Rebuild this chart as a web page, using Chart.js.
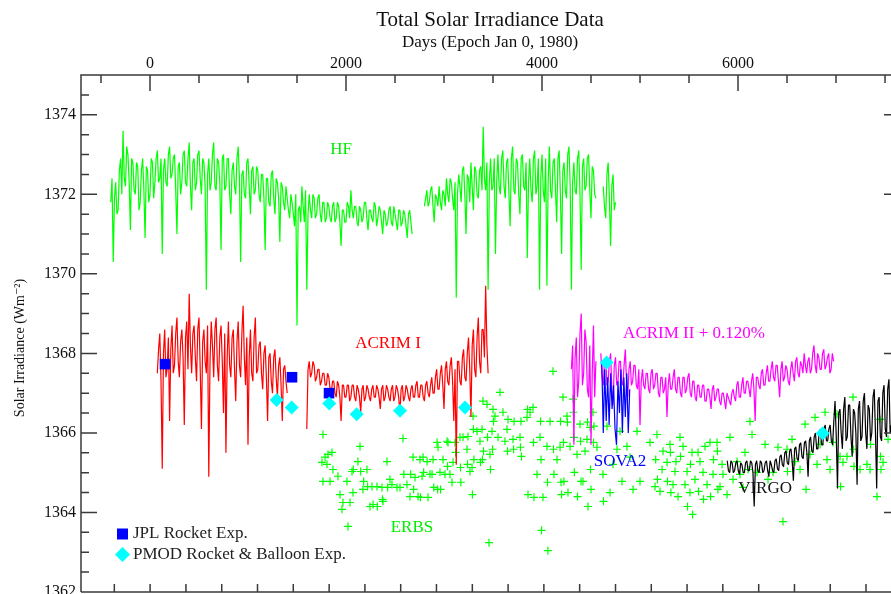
<!DOCTYPE html>
<html>
<head>
<meta charset="utf-8">
<script src="https://cdn.jsdelivr.net/npm/chart.js@4.4.0/dist/chart.umd.min.js"></script>
<style>
html, body { margin: 0; padding: 0; background: #fff; }
canvas { display: block; }
</style>
</head>
<body>
<canvas id="myChart" width="891" height="594"></canvas>
<script>
// ---- data (days since Jan 0 1980, irradiance in W/m2) ----
const chartTitle = 'Total Solar Irradiance Data';
const xTitle = 'Days (Epoch Jan 0, 1980)';
const yTitle = 'Solar Irradiance (Wm\u207B\u00B2)';
const xTicks = [0, 2000, 4000, 6000];
const yTicks = [1362, 1364, 1366, 1368, 1370, 1372, 1374];

// The daily records are read as two interleaved samples per 25-day step:
// "A" values at start + i*step, "B" values half a step later.

// HF, from day -400
const hfStart = -400, hfStep = 25;
const hfA = [
  1371.8, 1370.3, 1372.3, 1371.6, 1372.9, 1373.6, 1372.2, 1373.0, 1371.1, 1372.8,
  1372.0, 1372.7, 1371.8, 1372.9, 1370.9, 1372.6, 1372.0, 1372.8, 1372.3, 1373.1,
  1372.4, 1370.5, 1372.9, 1372.2, 1373.2, 1372.5, 1373.0, 1371.0, 1372.8, 1372.3,
  1373.1, 1372.2, 1373.3, 1371.6, 1372.9, 1372.3, 1373.1, 1372.0, 1372.8, 1369.6,
  1372.9, 1372.3, 1373.3, 1372.1, 1372.8, 1370.6, 1373.0, 1372.2, 1372.9, 1371.5,
  1372.8, 1372.0, 1373.2, 1370.3, 1372.6, 1371.9, 1372.9, 1371.5, 1372.7, 1372.1,
  1372.6, 1371.8, 1372.5, 1370.6, 1372.4, 1371.7, 1372.6, 1371.5, 1372.3, 1370.8,
  1372.2, 1371.6, 1371.9, 1371.4, 1371.8, 1371.2, 1368.7, 1371.7, 1372.2, 1371.3,
  1369.6, 1372.0, 1371.4, 1371.9, 1371.5, 1372.0, 1371.3, 1371.8, 1371.4, 1371.7,
  1371.3, 1371.8, 1371.4, 1371.7, 1370.7, 1371.6, 1371.3, 1371.7, 1372.1, 1371.4,
  1371.7, 1371.2, 1371.6, 1371.4, 1371.8, 1371.1, 1371.6, 1371.3, 1371.7, 1371.4,
  1371.6, 1371.0, 1371.5, 1371.3, 1371.7, 1371.2, 1371.5, 1371.1, 1371.6, 1371.3,
  1371.5, 1370.9, 1371.6, 1371.0, null, null, null, null, 1371.7, 1372.1,
  1371.8, 1372.2, 1371.3, 1371.9, 1372.2, 1371.6, 1372.0, 1372.4, 1371.8, 1372.3,
  1371.6, 1369.4, 1372.5, 1371.8, 1372.7, 1371.0, 1372.4, 1372.8, 1371.6, 1372.6,
  1371.9, 1372.7, 1373.7, 1372.1, 1369.6, 1372.9, 1372.2, 1370.5, 1373.0, 1372.0,
  1373.1, 1371.9, 1372.9, 1371.2, 1373.2, 1372.0, 1372.8, 1371.5, 1373.0, 1372.1,
  1370.4, 1372.9, 1371.8, 1373.1, 1372.2, 1369.6, 1373.0, 1371.8, 1369.7, 1373.2,
  1371.9, 1372.9, 1371.3, 1373.1, 1370.5, 1372.8, 1371.9, 1373.2, 1369.6, 1372.8,
  1372.0, 1373.1, 1370.1, 1372.9, 1372.2, 1373.0, 1371.4, 1372.6, 1371.9, null,
  null, 1372.2, 1371.4, 1372.8, 1370.7, 1372.5, 1371.8
];
const hfB = [
  1372.4, 1371.9, 1371.5, 1372.6, 1372.0, 1372.4, 1373.2, 1372.3, 1372.9, 1372.1,
  1372.8, 1371.6, 1372.6, 1372.1, 1372.7, 1371.8, 1372.9, 1371.9, 1372.9, 1372.3,
  1372.9, 1372.6, 1372.3, 1373.0, 1372.4, 1372.9, 1372.1, 1372.7, 1372.0, 1373.0,
  1372.3, 1372.9, 1372.2, 1372.8, 1372.1, 1373.0, 1372.4, 1372.9, 1372.2, 1372.5,
  1372.1, 1373.0, 1372.2, 1372.9, 1372.3, 1372.9, 1372.1, 1372.9, 1372.0, 1372.6,
  1372.2, 1372.9, 1372.4, 1372.5, 1372.0, 1372.8, 1372.2, 1372.6, 1372.0, 1372.7,
  1372.0, 1372.5, 1371.9, 1372.4, 1371.8, 1372.5, 1371.9, 1372.4, 1371.9, 1372.3,
  1371.8, 1372.2, 1371.6, 1372.0, 1371.5, 1372.0, 1371.6, 1371.3, 1371.7, 1372.1,
  1371.5, 1371.6, 1372.0, 1371.4, 1371.9, 1371.5, 1371.8, 1371.3, 1371.8, 1371.4,
  1371.7, 1371.3, 1371.8, 1371.3, 1371.6, 1371.3, 1371.8, 1371.4, 1371.6, 1371.7,
  1371.3, 1371.7, 1371.3, 1371.8, 1371.4, 1371.6, 1371.4, 1371.8, 1371.2, 1371.7,
  1371.3, 1371.6, 1371.2, 1371.6, 1371.3, 1371.7, 1371.3, 1371.6, 1371.2, 1371.6,
  1371.2, 1371.5, 1371.3, null, null, null, null, null, 1371.9, 1371.7,
  1372.1, 1371.7, 1372.0, 1371.7, 1371.8, 1372.1, 1371.7, 1372.0, 1372.4, 1371.9,
  1372.3, 1372.0, 1372.2, 1372.6, 1372.0, 1372.5, 1371.8, 1372.2, 1372.7, 1372.0,
  1372.6, 1372.1, 1372.4, 1372.8, 1372.3, 1372.1, 1372.9, 1372.3, 1372.2, 1372.9,
  1372.2, 1372.8, 1372.0, 1372.9, 1372.1, 1372.9, 1372.0, 1372.9, 1372.2, 1372.8,
  1372.3, 1372.1, 1372.9, 1372.0, 1372.9, 1372.4, 1372.1, 1372.9, 1372.3, 1372.1,
  1372.8, 1372.1, 1372.9, 1372.0, 1372.6, 1372.1, 1373.0, 1372.2, 1372.3, 1372.1,
  1372.9, 1372.0, 1372.7, 1372.1, 1372.9, 1372.1, 1372.7, 1372.0, null, null,
  null, 1371.7, 1372.5, 1371.9, 1372.2, 1371.6, null
];

// ACRIM I, from day 75
const acrim1Start = 75, acrim1Step = 25;
const acrim1A = [
  1367.5, 1368.5, 1365.1, 1368.6, 1367.6, 1366.3, 1368.7, 1367.7, 1368.9, 1367.4,
  1368.6, 1366.2, 1368.8, 1369.5, 1367.5, 1368.7, 1367.3, 1368.9, 1366.1, 1368.6,
  1367.5, 1364.9, 1368.8, 1367.4, 1368.9, 1367.3, 1368.7, 1366.5, 1365.5, 1368.8,
  1367.4, 1368.6, 1366.8, 1368.8, 1367.4, 1369.2, 1367.2, 1365.7, 1368.6, 1367.3,
  1368.9, 1367.6, 1368.3, 1367.1, 1368.2, 1366.3, 1368.0, 1367.0, 1368.1, 1366.9,
  1367.9, 1366.3, 1367.7, 1367.0, null, null, null, null, null, null,
  null, 1366.1, 1367.8, 1367.5, 1367.7, 1367.4, 1367.6, 1367.3, 1367.5, 1367.2,
  1367.4, 1367.0, 1367.3, 1366.9, 1367.2, 1366.3, 1367.2, 1366.9, 1367.2, 1366.9,
  1367.2, 1366.8, 1367.1, 1366.5, 1367.2, 1366.9, 1367.1, 1366.8, 1367.2, 1366.9,
  1367.1, 1366.6, 1367.2, 1366.9, 1367.1, 1366.8, 1367.2, 1366.9, 1367.1, 1366.5,
  1367.2, 1366.9, 1367.1, 1366.8, 1367.2, 1366.9, 1367.3, 1366.9, 1367.2, 1366.8,
  1367.3, 1366.9, 1367.4, 1367.0, 1367.6, 1367.1, 1367.7, 1366.6, 1367.8, 1367.2,
  1367.9, 1366.3, 1365.2, 1367.8, 1367.2, 1368.1, 1367.3, 1368.4, 1366.4, 1368.6,
  1367.4, 1368.9, 1367.5, 1368.6, 1369.7, 1367.5
];
const acrim1B = [
  1368.1, 1367.3, 1368.0, 1367.4, 1368.4, 1368.1, 1367.5, 1368.5, 1367.8, 1368.3,
  1367.9, 1368.4, 1367.6, 1368.2, 1368.5, 1367.9, 1368.6, 1367.6, 1368.3, 1367.8,
  1368.7, 1367.8, 1368.2, 1368.6, 1367.7, 1368.4, 1367.8, 1368.5, 1367.9, 1367.7,
  1368.4, 1367.6, 1368.3, 1367.7, 1368.5, 1367.9, 1368.4, 1367.9, 1367.5, 1368.4,
  1367.5, 1368.2, 1367.5, 1368.0, 1367.4, 1367.9, 1367.3, 1367.9, 1367.4, 1367.7,
  1367.2, 1367.6, 1367.3, null, null, null, null, null, null, null,
  null, 1367.6, 1367.4, 1367.8, 1367.3, 1367.6, 1367.2, 1367.5, 1367.2, 1367.5,
  1367.1, 1367.3, 1367.0, 1367.3, 1366.9, 1367.2, 1366.9, 1367.2, 1366.8, 1367.2,
  1366.9, 1367.2, 1366.9, 1367.1, 1366.8, 1367.2, 1366.9, 1367.1, 1366.9, 1367.2,
  1366.9, 1367.1, 1366.8, 1367.2, 1366.9, 1367.1, 1366.8, 1367.2, 1366.9, 1367.1,
  1366.8, 1367.2, 1366.9, 1367.1, 1366.9, 1367.2, 1366.9, 1367.2, 1366.9, 1367.2,
  1367.0, 1367.2, 1367.0, 1367.4, 1367.1, 1367.5, 1367.2, 1367.6, 1367.3, 1367.7,
  1367.3, 1367.6, 1367.8, 1367.3, 1367.9, 1367.4, 1368.0, 1367.6, 1368.2, 1367.6,
  1368.4, 1367.8, 1368.6, 1367.9, 1368.2, null
];

// ACRIM II + 0.120 %, from day 4300
const acrim2Start = 4300, acrim2Step = 25;
const acrim2A = [
  1367.6, 1365.7, 1368.4, 1367.3, 1369.0, 1367.5, 1368.3, 1366.9, 1365.7, 1368.7,
  1367.8, null, 1368.0, 1367.2, 1367.9, 1367.3, 1368.0, 1366.7, 1367.9, 1367.3,
  1367.8, 1367.2, 1368.1, 1366.9, 1367.8, 1367.3, 1367.7, 1367.1, 1366.2, 1367.6,
  1367.1, 1367.5, 1367.0, 1367.6, 1367.2, 1367.5, 1366.9, 1367.4, 1367.1, 1366.4,
  1367.5, 1367.1, 1367.6, 1367.0, 1367.4, 1366.9, 1367.4, 1367.1, 1367.5, 1366.9,
  1367.3, 1366.8, 1367.2, 1366.9, 1367.2, 1366.8, 1367.1, 1366.6, 1367.2, 1366.9,
  1367.1, 1366.7, 1367.0, 1366.6, 1366.9, 1366.7, 1367.1, 1366.8, 1367.3, 1366.9,
  1367.4, 1367.0, 1367.3, 1366.9, 1367.5, 1366.3, 1367.4, 1367.1, 1367.6, 1367.2,
  1367.7, 1367.3, 1367.8, 1367.3, 1367.7, 1366.9, 1367.8, 1367.4, 1367.6, 1367.2,
  1367.8, 1367.3, 1367.9, 1367.4, 1367.7, 1368.0, 1367.5, 1367.9, 1367.6, 1368.2,
  1367.5, 1367.9, 1367.6, 1368.1, 1367.7, 1368.0, 1367.6, 1367.8
];
const acrim2B = [
  1368.2, 1367.9, 1366.9, 1368.5, 1367.2, 1368.6, 1367.1, 1368.2, 1367.5, 1366.9,
  null, null, 1367.4, 1367.8, 1367.2, 1367.8, 1367.1, 1367.7, 1367.2, 1367.8,
  1367.3, 1367.7, 1367.3, 1367.6, 1367.2, 1367.7, 1367.2, 1367.6, 1367.3, 1367.2,
  1367.5, 1367.1, 1367.5, 1367.1, 1367.5, 1367.0, 1367.4, 1367.0, 1367.4, 1367.2,
  1367.1, 1367.4, 1367.1, 1367.4, 1367.0, 1367.4, 1367.0, 1367.4, 1367.0, 1367.3,
  1366.9, 1367.2, 1366.9, 1367.2, 1366.8, 1367.1, 1366.9, 1367.1, 1366.8, 1367.1,
  1366.8, 1367.0, 1366.8, 1367.0, 1366.8, 1367.0, 1366.9, 1367.2, 1366.9, 1367.2,
  1367.0, 1367.3, 1367.1, 1367.3, 1367.1, 1367.4, 1367.2, 1367.5, 1367.2, 1367.5,
  1367.3, 1367.6, 1367.4, 1367.7, 1367.3, 1367.6, 1367.3, 1367.7, 1367.3, 1367.6,
  1367.5, 1367.8, 1367.5, 1367.8, 1367.5, 1367.7, 1367.8, 1367.5, 1368.0, 1367.7,
  1368.0, 1367.6, 1368.0, 1367.6, 1367.9, 1367.5, 1368.0, null
];

// SOVA2, every 15 days from day 4610
const sovaStart = 4610, sovaStep = 15;
const sovaVals = [
  1367.8, 1366.0, 1367.6, 1366.3, 1367.4, 1366.2, 1367.5, 1366.6, 1367.2, 1366.1,
  1365.7, 1367.3, 1366.5, 1367.6, 1366.0, 1367.4, 1366.4, 1367.5, 1366.0, 1367.1
];

// VIRGO, from day 5890
const virgoStart = 5890, virgoStep = 25;
const virgoA = [
  1365.3, 1365.0, 1365.25, 1365.05, 1365.3, 1364.95, 1365.2, 1365.0, 1365.3, 1365.05,
  1365.25, 1364.15, 1365.3, 1365.0, 1365.25, 1365.05, 1365.3, 1364.9, 1365.2, 1365.0,
  1365.35, 1365.05, 1365.45, 1365.15, 1365.55, 1365.2, 1365.6, 1364.8, 1365.65, 1365.3,
  1365.75, 1365.35, 1365.8, 1364.9, 1365.9, 1365.5, 1366.0, 1365.6, 1366.1, 1365.7,
  1366.2, 1365.8, 1366.2, 1365.7, 1366.8, 1364.6, 1366.6, 1365.6, 1366.9, 1365.9,
  1366.7, 1365.4, 1366.5, 1364.7, 1366.8, 1365.9, 1367.0, 1365.6, 1366.6, 1366.0,
  1367.1, 1364.6, 1366.9, 1365.8, 1367.2, 1365.9, 1367.35, 1366.2
];
const virgoB = [
  1365.05, 1365.3, 1365.0, 1365.25, 1365.05, 1365.25, 1365.0, 1365.25, 1365.05, 1365.3,
  1365.0, 1365.2, 1365.05, 1365.3, 1365.0, 1365.25, 1365.05, 1365.3, 1365.05, 1365.3,
  1365.1, 1365.4, 1365.2, 1365.5, 1365.25, 1365.55, 1365.3, 1365.6, 1365.35, 1365.7,
  1365.4, 1365.75, 1365.5, 1365.8, 1365.55, 1365.9, 1365.6, 1366.0, 1365.7, 1366.1,
  1365.8, 1366.1, 1365.8, 1366.3, 1365.9, 1366.5, 1366.0, 1366.6, 1365.8, 1366.7,
  1365.9, 1366.6, 1366.0, 1366.6, 1365.8, 1366.8, 1366.0, 1366.7, 1365.8, 1366.9,
  1366.0, 1366.8, 1365.9, 1367.0, 1366.1, 1367.1, 1366.0, null
];

// ERBS [day, value]
const erbsPoints = [
  [1755,1365.26],[1765,1365.96],[1765,1364.78],[1786,1365.39],[1806,1365.21],[1816,1365.46],
  [1837,1364.78],[1857,1365.51],[1867,1365.08],[1918,1364.91],[1939,1364.45],[1959,1364.08],
  [1969,1364.25],[2010,1364.78],[2020,1363.65],[2041,1364.25],[2061,1365.03],[2071,1364.50],
  [2075,1365.08],[2122,1365.28],[2143,1365.66],[2150,1365.03],[2173,1364.58],[2180,1364.78],
  [2214,1365.08],[2220,1364.65],[2245,1364.15],[2265,1364.65],[2276,1364.20],[2316,1364.65],
  [2320,1364.15],[2367,1364.63],[2372,1364.33],[2378,1364.28],[2418,1365.28],[2425,1364.63],
  [2449,1364.83],[2469,1364.70],[2520,1364.63],[2551,1364.63],[2582,1365.86],[2590,1364.96],
  [2622,1364.70],[2653,1364.40],[2660,1364.96],[2684,1365.39],[2690,1364.58],[2704,1364.88],
  [2735,1364.40],[2755,1365.33],[2760,1364.38],[2776,1364.91],[2786,1365.39],[2792,1365.01],
  [2827,1365.28],[2837,1364.38],[2857,1364.96],
  [2878,1364.96],[2888,1365.33],[2895,1364.63],[2929,1365.76],[2935,1364.58],[2939,1365.64],
  [2959,1365.01],[2965,1364.58],[2990,1365.33],[3010,1364.96],[3031,1365.79],[3036,1365.16],
  [3041,1365.76],[3061,1364.96],[3082,1364.76],[3092,1365.26],[3112,1365.76],[3118,1365.51],
  [3163,1365.89],[3168,1365.13],[3172,1364.76],[3194,1365.89],[3235,1365.59],[3240,1365.21],
  [3245,1365.91],[3265,1365.03],[3286,1365.13],[3290,1364.45],[3296,1366.42],[3300,1366.09],
  [3305,1365.33],[3337,1366.04],[3367,1365.79],[3372,1365.26],
  [3388,1366.09],[3392,1365.33],[3398,1366.80],[3403,1365.54],[3439,1366.72],[3444,1365.89],
  [3459,1363.24],[3469,1365.46],[3474,1365.08],[3490,1366.04],[3495,1365.59],[3500,1366.59],
  [3505,1366.29],[3520,1366.42],[3551,1365.89],[3571,1367.02],[3602,1366.52],[3622,1365.79],
  [3643,1366.09],[3648,1365.54],[3653,1366.34],[3704,1365.84],[3710,1365.59],[3715,1366.29],
  [3776,1365.89],[3780,1365.64],[3785,1366.29],[3790,1365.41],[3847,1366.39],[3852,1366.59],
  [3857,1364.45],[3878,1366.52],[3908,1366.64],[3913,1365.76],[3918,1364.38],[3949,1364.96],
  [3980,1365.89],[3985,1366.29],[3990,1365.33],[3995,1363.55],[4010,1364.38],[4051,1365.66],
  [4056,1364.76],[4060,1363.04],[4082,1366.29],[4112,1367.55],[4117,1365.59],[4122,1364.96],
  [4153,1365.33],[4184,1365.64],[4189,1366.29],[4194,1364.76],[4199,1364.45],
  [4214,1366.90],[4219,1365.76],[4224,1364.78],[4255,1366.42],[4260,1366.27],[4265,1364.50],
  [4286,1365.66],[4316,1366.85],[4320,1366.52],[4325,1365.89],[4330,1365.01],[4357,1365.46],
  [4362,1364.40],[4388,1366.22],[4393,1365.79],[4398,1364.78],[4418,1364.78],[4439,1365.54],
  [4459,1365.84],[4464,1366.27],[4469,1364.15],[4490,1366.14],[4495,1365.08],[4500,1364.58],
  [4520,1366.52],[4525,1365.76],[4530,1366.17],[4561,1365.64],[4622,1364.96],[4627,1364.28],
  [4663,1366.17],[4694,1364.50],[4724,1365.21],[4765,1365.59],[4796,1366.04],[4816,1364.78],
  [4867,1365.66],[4898,1365.39],[4929,1364.58],[4969,1366.04],[5000,1364.78],
  [5102,1365.76],[5153,1364.65],[5160,1365.33],[5173,1365.96],[5178,1364.83],[5204,1364.53],
  [5225,1365.08],[5235,1365.54],[5276,1365.26],[5280,1364.78],[5306,1365.71],[5310,1365.51],
  [5315,1364.50],[5337,1364.70],[5357,1365.03],[5367,1365.28],[5388,1364.40],[5408,1365.89],
  [5413,1365.41],[5439,1365.66],[5459,1364.70],[5480,1365.03],[5485,1364.15],[5510,1364.50],
  [5515,1365.21],[5531,1365.51],[5536,1363.95],[5561,1364.83],[5592,1365.51],[5597,1364.53],
  [5612,1365.28],[5643,1365.01],[5648,1364.33],[5663,1365.66],[5684,1364.70],[5714,1365.76],
  [5720,1364.40],[5745,1364.96],[5750,1365.33],[5786,1365.76],[5790,1365.54],[5795,1364.58],
  [5816,1364.65],[5837,1365.21],[5847,1364.96],[5888,1364.45],[5918,1365.89],[5949,1364.83],
  [5990,1365.28],[6020,1364.96],[6051,1364.63],[6071,1365.51],[6102,1365.08],[6122,1366.29],
  [6143,1365.96],[6194,1365.01],
  [6276,1365.71],[6306,1364.83],[6357,1365.01],[6408,1365.64],[6459,1363.77],[6500,1365.59],
  [6505,1365.03],[6551,1365.84],[6582,1365.28],[6633,1365.08],[6684,1366.22],[6694,1364.58],
  [6735,1365.46],[6786,1366.39],[6806,1365.21],[6837,1365.71],[6888,1366.52],[6908,1365.33],
  [6939,1365.08],[6969,1365.76],[7010,1366.47],[7041,1365.41],[7046,1364.65],[7071,1365.26],
  [7112,1365.41],[7173,1366.90],[7178,1365.59],[7183,1365.16],[7245,1365.08],[7316,1365.21],
  [7347,1365.08],[7352,1365.71],[7418,1364.40],[7449,1366.34],[7454,1365.41],[7459,1365.08],
  [7480,1365.26],[7531,1365.84]
];

// rocket / balloon calibration flights
const jplDays = [153, 1449, 1827];
const jplVals = [1367.73, 1367.40, 1367.00];
const pmodDays = [1293, 1446, 1829, 2109, 2551, 3214, 4660, 6864];
const pmodVals = [1366.83, 1366.64, 1366.74, 1366.47, 1366.56, 1366.64, 1367.77, 1365.99];

// instrument names written next to their curves
const seriesNames = ['HF', 'ACRIM I', 'ACRIM II + 0.120%', 'SOVA2', 'VIRGO', 'ERBS'];
const nameDays = [1949, 2429, 5551, 4796, 6276, 2673];
const nameVals = [1373.12, 1368.26, 1368.51, 1365.28, 1364.60, 1363.62];
const nameColors = ['#00ee00', '#ff0000', '#ff00ff', '#0000ff', '#111111', '#00ee00'];

// ---- helpers ----
function series(start, step, vals) {
  return vals.map((v, i) => ({ x: start + i * step, y: v }));
}
function interleave(start, step, a, b) {
  const out = [];
  a.forEach((v, i) => {
    out.push({ x: start + i * step, y: v });
    out.push({ x: start + (i + 0.5) * step, y: b[i] });
  });
  return out;
}
function zipXY(xs, ys) {
  return xs.map((d, i) => ({ x: d, y: ys[i] }));
}

const serif = '"Liberation Serif", "DejaVu Serif", serif';

const decor = {
  id: 'decor',
  afterDatasetsDraw(chart) {
    const ctx = chart.ctx;
    const a = chart.chartArea;
    const xs = chart.scales.x, ys = chart.scales.y;
    ctx.save();

    // frame and inward ticks
    ctx.strokeStyle = '#3a3a3a';
    ctx.lineWidth = 1.5;
    ctx.beginPath();
    ctx.moveTo(a.left, a.bottom); ctx.lineTo(a.left, a.top); ctx.lineTo(a.right + 10, a.top);
    ctx.moveTo(a.left, a.bottom); ctx.lineTo(a.right + 10, a.bottom);
    const rightAxis = a.right + 9;
    for (let v = 1362; v <= 1375; v += 0.5) {
      const py = ys.getPixelForValue(v);
      const len = v % 2 === 0 ? 16 : 8;
      ctx.moveTo(a.left, py); ctx.lineTo(a.left + len, py);
      ctx.moveTo(rightAxis, py); ctx.lineTo(rightAxis - len, py);
    }
    for (let d = -500; d <= 7500; d += 500) {
      const px = xs.getPixelForValue(d);
      const len = d % 2000 === 0 ? 16 : 8;
      ctx.moveTo(px, a.top); ctx.lineTo(px, a.top + len);
    }
    // year ticks along the bottom
    const epoch = Date.UTC(1980, 0, 0);
    for (let yr = 1979; yr <= 2000; yr++) {
      const d = (Date.UTC(yr, 0, 1) - epoch) / 864e5;
      const px = xs.getPixelForValue(d);
      ctx.moveTo(px, a.bottom); ctx.lineTo(px, a.bottom - 8);
    }
    ctx.stroke();

    // titles
    ctx.fillStyle = '#111';
    ctx.textAlign = 'center';
    ctx.textBaseline = 'middle';
    ctx.font = '21px ' + serif;
    ctx.fillText(chartTitle, 490, 20);
    ctx.font = '17px ' + serif;
    ctx.fillText(xTitle, 490, 43);
    ctx.save();
    ctx.translate(20, 348);
    ctx.rotate(-Math.PI / 2);
    ctx.font = '14px ' + serif;
    ctx.fillText(yTitle, 0, 0);
    ctx.restore();

    // curve names
    ctx.font = '17px ' + serif;
    seriesNames.forEach((t, i) => {
      ctx.fillStyle = nameColors[i];
      ctx.fillText(t, xs.getPixelForValue(nameDays[i]), ys.getPixelForValue(nameVals[i]));
    });

    // legend for the flight symbols
    const jpl = chart.data.datasets[1], pmod = chart.data.datasets[0];
    ctx.textAlign = 'left';
    ctx.fillStyle = jpl.backgroundColor;
    ctx.fillRect(117, 528.5, 11, 11);
    ctx.fillStyle = pmod.backgroundColor;
    ctx.beginPath();
    ctx.moveTo(122.5, 547); ctx.lineTo(130, 554.5); ctx.lineTo(122.5, 562); ctx.lineTo(115, 554.5);
    ctx.closePath();
    ctx.fill();
    ctx.fillStyle = '#222';
    ctx.fillText(jpl.label, 133, 534);
    ctx.fillText(pmod.label, 133, 555);

    ctx.restore();
  }
};

function noPad(s) {
  s.paddingTop = 0; s.paddingBottom = 0; s.paddingLeft = 0; s.paddingRight = 0;
}

const lineStyle = { showLine: true, pointRadius: 0, borderWidth: 1.2, borderJoinStyle: 'bevel' };

const ctx = document.getElementById('myChart').getContext('2d');
const myChart = new Chart(ctx, {
  type: 'scatter',
  data: {
    datasets: [
      { label: 'PMOD Rocket & Balloon Exp.', data: zipXY(pmodDays, pmodVals), pointStyle: 'rectRot',
        pointRadius: 7, backgroundColor: '#00ffff', borderColor: '#00ffff', borderWidth: 0, order: 0 },
      { label: 'JPL Rocket Exp.', data: zipXY(jplDays, jplVals), pointStyle: 'rect',
        pointRadius: 7.5, backgroundColor: '#0000ff', borderColor: '#0000ff', borderWidth: 0, order: 1 },
      Object.assign({ label: 'VIRGO', data: interleave(virgoStart, virgoStep, virgoA, virgoB),
        borderColor: '#000000', order: 2 }, lineStyle),
      Object.assign({ label: 'SOVA2', data: series(sovaStart, sovaStep, sovaVals),
        borderColor: '#0000ff', order: 3 }, lineStyle),
      Object.assign({ label: 'ACRIM II', data: interleave(acrim2Start, acrim2Step, acrim2A, acrim2B),
        borderColor: '#ff00ff', order: 4 }, lineStyle),
      Object.assign({ label: 'ACRIM I', data: interleave(acrim1Start, acrim1Step, acrim1A, acrim1B),
        borderColor: '#ff0000', order: 5 }, lineStyle),
      Object.assign({ label: 'HF', data: interleave(hfStart, hfStep, hfA, hfB),
        borderColor: '#00ff00', order: 6 }, lineStyle),
      { label: 'ERBS', data: erbsPoints.map(p => ({ x: p[0], y: p[1] })), pointStyle: 'cross',
        pointRadius: 4, borderColor: '#00ff00', backgroundColor: '#00ff00', borderWidth: 1.2, order: 7 }
    ]
  },
  options: {
    responsive: false,
    animation: false,
    events: [],
    spanGaps: false,
    layout: { autoPadding: false, padding: { left: 0, right: 0, top: 0, bottom: 2 } },
    plugins: { legend: { display: false }, title: { display: false }, tooltip: { enabled: false } },
    scales: {
      x: {
        type: 'linear', position: 'top', min: -704, max: 7561,
        afterBuildTicks: s => { s.ticks = xTicks.map(v => ({ value: v })); },
        afterFit: s => { s.height = 75; noPad(s); },
        grid: { display: false, drawTicks: false },
        border: { display: false },
        ticks: { color: '#111', padding: 2, maxRotation: 0, autoSkip: false,
                 font: { family: serif, size: 16 }, callback: v => String(v) }
      },
      y: {
        type: 'linear', position: 'left', min: 1362, max: 1375,
        afterBuildTicks: s => { s.ticks = yTicks.map(v => ({ value: v })); },
        afterFit: s => { s.width = 81; noPad(s); },
        grid: { display: false, drawTicks: false },
        border: { display: false },
        ticks: { color: '#111', padding: 5, autoSkip: false,
                 font: { family: serif, size: 16 }, callback: v => String(v) }
      }
    }
  },
  plugins: [decor]
});
</script>
</body>
</html>
